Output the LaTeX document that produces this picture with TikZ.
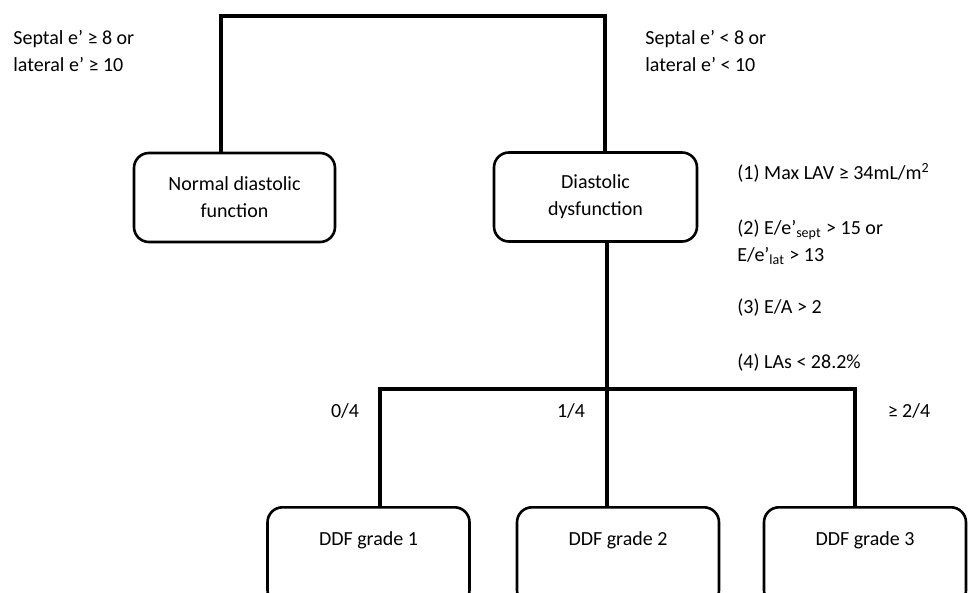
\documentclass[tikz,border=0pt]{standalone}
\usepackage{fontspec}
\setmainfont{Carlito}

\tikzset{
  box/.style={draw, rounded corners=7.5pt, line width=1.3pt, align=center, minimum height=44.5pt},
  gradebox/.style={draw, rounded corners=7.5pt, line width=1.3pt, anchor=north, minimum width=101pt, inner ysep=0pt, text height=19pt, text depth=30pt},
  trunk/.style={line width=2.2pt},
  note/.style={align=left, anchor=west, inner sep=0pt},
  count/.style={inner sep=0pt}
}

\begin{document}
\begin{tikzpicture}[x=0.5pt, y=-0.5pt, font=\fontsize{10}{13.5}\selectfont]

\clip (0,0) rectangle (970,593);

% boxes
\node[box, minimum width=100.5pt] (normal) at (234.5,197.5) {Normal diastolic\\function};
\node[box, minimum width=101.5pt] (diastolic) at (595.5,197) {Diastolic\\dysfunction};

\node[gradebox] (grade1) at (368.5,506) {DDF grade 1};
\node[gradebox] (grade2) at (618,506) {DDF grade 2};
\node[gradebox] (grade3) at (865,506) {DDF grade 3};

% connectors
\coordinate (lefttop) at (221,16);
\coordinate (righttop) at (605,16);
\draw[trunk] (normal.north -| lefttop) -- (lefttop) -- (righttop) -- (diastolic.north -| righttop);

\coordinate (fork) at (607,389);
\coordinate (forkL) at (380,389);
\coordinate (forkR) at (855,389);
\draw[trunk] (diastolic.south -| fork) -- (fork);
\draw[trunk] (grade1.north -| forkL) -- (forkL) -- (forkR) -- (grade3.north -| forkR);
\draw[trunk] (fork) -- (grade2.north -| fork);

% labels
\node[note] (normcrit) at (13,51.5) {Septal e’ ≥ 8 or\\lateral e’ ≥ 10};
\node[note] (dysfcrit) at (645,51.5) {Septal e’ < 8 or\\lateral e’ < 10};

\node[note] (crit1) at (737,173) {(1) Max LAV ≥ 34mL/m\textsuperscript{2}};
\node[note] (crit2) at (737,242) {(2) E/e’\textsubscript{sept} > 15 or\\E/e’\textsubscript{lat} > 13};
\node[note] (crit3) at (737,308) {(3) E/A > 2};
\node[note] (crit4) at (737,363) {(4) LAs < 28.2\%};

\node[count] (zero) at (345,411) {0/4};
\node[count] (one) at (571,411) {1/4};
\node[count] (two) at (909,411) {≥ 2/4};

\end{tikzpicture}
\end{document}
